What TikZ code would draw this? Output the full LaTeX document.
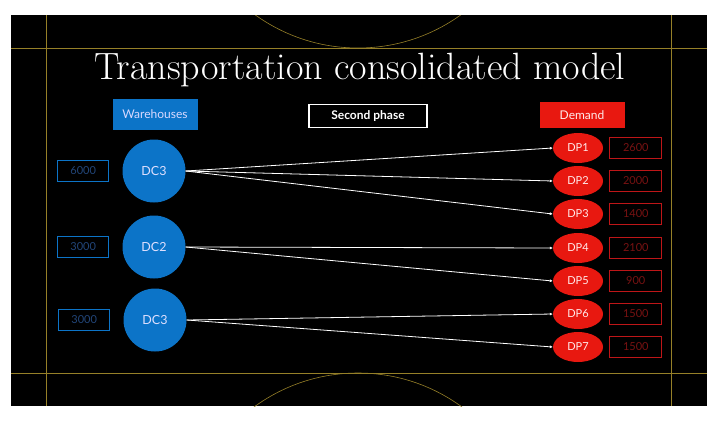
\documentclass[tikz,border=0pt]{standalone}
\usepackage{fontspec}
\setsansfont{Lato}
\usetikzlibrary{arrows.meta}
\usetikzlibrary{positioning}
\usetikzlibrary{shapes.geometric}
\definecolor{slideblue}{RGB}{12,116,200}
\definecolor{dimblue}{RGB}{34,70,122}
\definecolor{slidered}{RGB}{232,24,16}
\definecolor{dimred}{RGB}{120,18,18}
\definecolor{boxred}{RGB}{190,22,24}
\definecolor{gold}{RGB}{150,128,40}

\begin{document}
\begin{tikzpicture}[x=1pt,y=-1pt,
	header/.style={font=\sffamily\fontsize{12}{14}\selectfont,minimum height=26pt,inner sep=0pt},
	dc/.style={circle,fill=slideblue,minimum size=63pt,inner sep=0pt,text=blue!12,font=\sffamily\fontsize{12.5}{14}\selectfont},
	dp/.style={ellipse,fill=slidered,minimum width=50pt,minimum height=30pt,inner sep=0pt,text=red!8,font=\sffamily\fontsize{11}{13}\selectfont},
	supply/.style={draw=slideblue,line width=1.2pt,minimum width=51pt,minimum height=21pt,inner sep=0pt,text=dimblue,font=\sffamily\fontsize{11}{13}\selectfont},
	demand/.style={draw=boxred,line width=1.2pt,minimum width=52pt,minimum height=21pt,inner sep=0pt,text=dimred,font=\sffamily\fontsize{11}{13}\selectfont},
	route/.style={white,line width=0.8pt,-{Latex[length=3pt,width=3pt]}}]
	\fill[white] (0,0) rectangle (720,421);
	\fill[black] (11,15) rectangle (707,406);
	% frame lines and arcs
	\begin{scope}
		\clip (11,15) rectangle (707,406);
		\draw[gold,line width=0.6pt] (46,15) -- (46,406);
		\draw[gold,line width=0.6pt] (671,15) -- (671,406);
		\draw[gold,line width=0.6pt] (11,48) -- (707,48);
		\draw[gold,line width=0.6pt] (11,373) -- (707,373);
		\draw[gold,line width=0.6pt] (358,-128) circle (176);
		\draw[gold,line width=0.6pt] (358,549) circle (176);
	\end{scope}

	\node[anchor=base,text=white,font=\fontsize{38}{44}\selectfont] (title) at (360,79) {Transportation consolidated model};

	\node[header,fill=slideblue,minimum width=85pt,minimum height=31pt,text=blue!15] (wh) at (155,114) {Warehouses};
	\node[header,draw=white,line width=1.3pt,fill=black,minimum width=118pt,minimum height=23pt,text=white,font=\sffamily\bfseries\fontsize{12}{14}\selectfont] (phase) at (368,116) {Second phase};
	\node[header,fill=slidered,minimum width=85pt,text=red!8] (dem) at (582,115) {Demand};

	\node[dc] (dc1) at (154,171) {DC3};
	\node[dc] (dc2) at (154,247) {DC2};
	\node[dc] (dc3) at (155,320) {DC3};

	\node[supply,left=13pt of dc1] (s1) {6000};
	\node[supply,left=13pt of dc2] (s2) {3000};
	\node[supply,left=13pt of dc3] (s3) {3000};

	\foreach \i/\y/\q in {1/148/2600,2/181/2000,3/214/1400,4/248/2100,5/281/900,6/314/1500,7/347/1500}{
		\node[dp] (dp\i) at (578,\y) {DP\i};
		\node[demand,right=6pt of dp\i] (d\i) {\q};
	}

	\draw[route] (dc1.east) -- (dp1.west);
	\draw[route] (dc1.east) -- (dp2.west);
	\draw[route] (dc1.east) -- (dp3.west);
	\draw[route] (dc2.east) -- (dp4.west);
	\draw[route] (dc2.east) -- (dp5.west);
	\draw[route] (dc3.east) -- (dp6.west);
	\draw[route] (dc3.east) -- (dp7.west);
\end{tikzpicture}
\end{document}
